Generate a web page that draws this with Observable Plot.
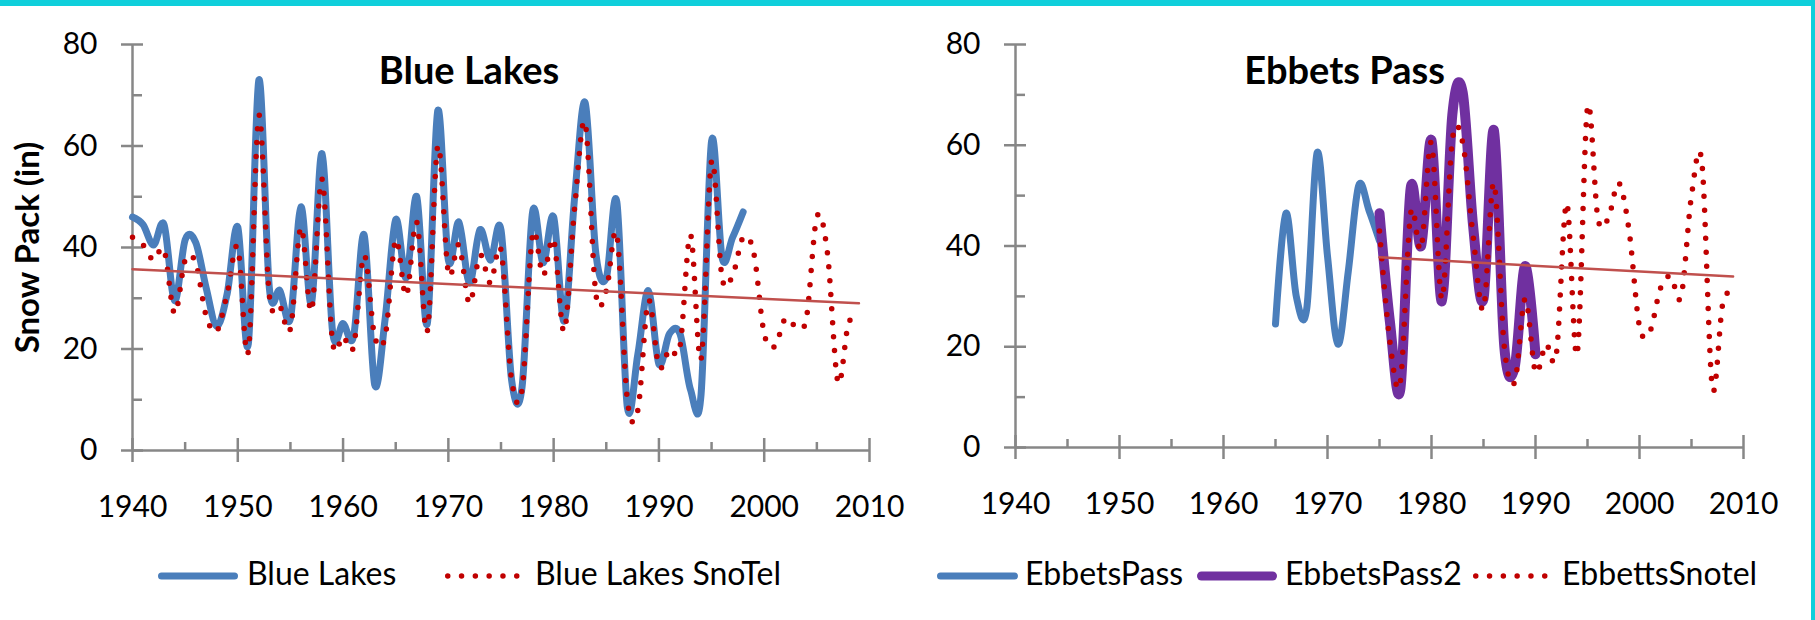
<!DOCTYPE html>
<html><head><meta charset="utf-8">
<script src="https://cdn.jsdelivr.net/npm/d3@7"></script>
<script src="https://cdn.jsdelivr.net/npm/@observablehq/plot@0.6"></script>
<style>
html,body{margin:0;padding:0;background:#fff;}
#page{position:relative;width:1815px;height:620px;overflow:hidden;font-family:Lato,sans-serif;background:#fff;}
.bar-top{position:absolute;left:0;top:0;width:1815px;height:6px;background:#0FCFDB;}
.bar-right{position:absolute;left:1811px;top:0;width:4px;height:620px;background:#0FCFDB;}
.chart{position:absolute;top:0;}
.leg{position:absolute;top:553px;font-size:32px;line-height:40px;color:#000;white-space:nowrap;font-family:Lato,sans-serif;}
.sw{position:absolute;top:566px;overflow:visible;}
</style></head><body>
<div id="page">
  <div class="chart" id="left" style="left:0px"></div>
  <div class="chart" id="right" style="left:905px"></div>
  <div id="legend"></div>
  <div class="bar-top"></div>
  <div class="bar-right"></div>
</div>
<script>
// ---------- data ----------
const blueLakesStart = 1940;
const blueLakes = [46, 44.5, 40.5, 44.5, 29.5, 41.5, 41, 32, 24.5, 31,
  44, 21, 73, 32, 31.5, 26, 48, 29, 58.5, 23.5,
  25, 22.5, 42.5, 13, 26, 45.5, 34, 50, 25, 67,
  37.5, 45, 33, 43.5, 37.5, 43.5, 14, 12.5, 47, 37,
  46, 25.5, 50, 68.5, 39, 34, 49, 8.5, 19, 31.5,
  17, 23, 23, 12, 11, 61, 38, 42, 47];

const blueLakesSnoTelStart = 1940;
const blueLakesSnoTel = [42, 40.5, 37.5, 39.5, 27, 37.5, 37, 26.5, 23.5, 31,
  40, 19.5, 66, 30.5, 28.5, 24, 44, 27.5, 53.5, 21.5,
  22.5, 20.5, 38.5, 22.5, 22.5, 41.5, 30.5, 45, 23.5, 60,
  35, 40.5, 29, 38.5, 33, 39.5, 14, 12, 42.5, 34.5,
  41.5, 23.5, 48, 64.5, 31, 31.5, 42.5, 10, 8, 29.5,
  16.5, 20, 20.5, 42.5, 18, 57, 34, 34.5, 42, 39,
  23, 20.5, 26, 24.5, 26, 46, 39, 13.5, 25, 26];

const ebbetsPassStart = 1965;
const ebbetsPass = [24.5, 46.5, 30, 27.5, 58.5, 38, 20.5, 35, 52, 47, 41];

const ebbetsPass2Start = 1975;
const ebbetsPass2 = [46.5, 25, 11.5, 51.5, 40, 61, 29, 66, 70.5, 44, 29.5, 63, 20, 16, 36, 18.5];

const ebbettsSnotelStart = 1975;
const ebbettsSnotel = [43, 21, 13, 46.5, 39.5, 60.5, 29.5, 61, 60.5, 42, 27.5, 52.5, 20, 13, 29.5,
  15, 20.5, 18.5, 48.5, 18.5, 67.5, 45.5, 45.5, 52.5, 43,
  24, 23, 31.5, 34, 30, 50, 56.5, 12, 28.5, 31];

const xMajor = [1940, 1950, 1960, 1970, 1980, 1990, 2000, 2010];
const xMinor = [1945, 1955, 1965, 1975, 1985, 1995, 2005];
const yMajor = [0, 20, 40, 60, 80];
const yMinor = [10, 30, 50, 70];

const titles = ["Blue Lakes", "Ebbets Pass"];
const yTitle = "Snow Pack (in)";
const legendLeft = ["Blue Lakes", "Blue Lakes SnoTel"];
const legendRight = ["EbbetsPass", "EbbetsPass2", "EbbettsSnotel"];

// ---------- styles ----------
const C = {blue: "#4A7EBB", purple: "#7030A0", red: "#C00000", trend: "#C0504D", axis: "#878787"};

const toRows = (start, vals) => vals.map((v, i) => ({year: start + i, value: v}));

function axes() {
  return [
    Plot.ruleY([0], {stroke: C.axis, strokeWidth: 2.5}),
    Plot.ruleX([1940], {stroke: C.axis, strokeWidth: 2.5}),
    Plot.axisX(xMajor, {anchor: "bottom", tickSize: 12, tickPadding: 33, stroke: C.axis, strokeWidth: 2.5, fill: "#000", fontSize: 30, tickFormat: d => String(d), label: null}),
    Plot.axisX(xMajor, {anchor: "bottom", tickSize: 12, dy: -12, stroke: C.axis, strokeWidth: 2.5, tickFormat: () => "", label: null}),
    Plot.axisX(xMinor, {anchor: "bottom", tickSize: 8, dy: -8, stroke: C.axis, strokeWidth: 2.5, tickFormat: () => "", label: null}),
    Plot.axisY(yMajor, {anchor: "left", tickSize: 11, tickPadding: 24, stroke: C.axis, strokeWidth: 2.5, fill: "#000", fontSize: 30, tickFormat: d => String(d), label: null}),
    Plot.axisY(yMajor, {anchor: "left", tickSize: 11, dx: 11, stroke: C.axis, strokeWidth: 2.5, tickFormat: () => "", label: null}),
    Plot.axisY(yMinor, {anchor: "left", tickSize: 10, dx: 10, stroke: C.axis, strokeWidth: 2.5, tickFormat: () => "", label: null})
  ];
}

function solid(rows, color, w) {
  return Plot.line(rows, {x: "year", y: "value", curve: "cardinal", stroke: color, strokeWidth: w, strokeLinecap: "round", strokeLinejoin: "round"});
}
function dotted(rows) {
  return Plot.line(rows, {x: "year", y: "value", curve: "cardinal", stroke: C.red, strokeWidth: 5.5, strokeDasharray: "0 14", strokeLinecap: "round"});
}
function trend(rows) {
  return Plot.linearRegressionY(rows, {x: "year", y: "value", stroke: C.trend, strokeWidth: 2.5, ci: 0});
}

function base(marginLeft, marginRight, marginBottom, marks) {
  return Plot.plot({
    width: 905, height: 530,
    marginTop: 44, marginBottom, marginLeft, marginRight,
    x: {domain: [1940, 2010], label: null},
    y: {domain: [0, 80], label: null},
    style: {fontFamily: "Lato, sans-serif", fontSize: "30px", background: "transparent", overflow: "visible", color: "#000"},
    marks
  });
}

// left chart
const blRows = toRows(blueLakesStart, blueLakes);
const bsRows = toRows(blueLakesSnoTelStart, blueLakesSnoTel);
document.getElementById("left").appendChild(base(132, 36, 80, [
  ...axes(),
  solid(blRows, C.blue, 7),
  dotted(bsRows),
  trend(bsRows),
  Plot.text([titles[0]], {text: d => d, frameAnchor: "top", dx: -32, dy: 13, fontSize: 38, fontWeight: "bold", fill: "#000"}),
  Plot.text([yTitle], {text: d => d, frameAnchor: "left", textAnchor: "middle", rotate: -90, dx: -104, fontSize: 33, fontWeight: "bold", fill: "#000"})
]));

// right chart
const epRows = toRows(ebbetsPassStart, ebbetsPass);
const ep2Rows = toRows(ebbetsPass2Start, ebbetsPass2);
const esRows = toRows(ebbettsSnotelStart, ebbettsSnotel);
document.getElementById("right").appendChild(base(110, 67, 83, [
  ...axes(),
  solid(epRows, C.blue, 7),
  solid(ep2Rows, C.purple, 10),
  dotted(esRows),
  trend(esRows),
  Plot.text([titles[1]], {text: d => d, frameAnchor: "top", dx: -35, dy: 13, fontSize: 38, fontWeight: "bold", fill: "#000"})
]));

// ---------- legend ----------
const legend = document.getElementById("legend");
function swatch(x1, x2, color, w, dash) {
  const ns = "http://www.w3.org/2000/svg";
  const svg = document.createElementNS(ns, "svg");
  svg.setAttribute("class", "sw");
  svg.setAttribute("width", x2 - x1 + 20);
  svg.setAttribute("height", 20);
  svg.style.left = (x1 - 10) + "px";
  const l = document.createElementNS(ns, "line");
  l.setAttribute("x1", 10 + w / 2); l.setAttribute("x2", x2 - x1 + 10 - w / 2);
  l.setAttribute("y1", 10); l.setAttribute("y2", 10);
  l.setAttribute("stroke", color); l.setAttribute("stroke-width", w);
  l.setAttribute("stroke-linecap", "round");
  if (dash) l.setAttribute("stroke-dasharray", dash);
  svg.appendChild(l);
  legend.appendChild(svg);
}
function label(x, t) {
  const d = document.createElement("div");
  d.className = "leg"; d.style.left = x + "px"; d.textContent = t;
  legend.appendChild(d);
}
swatch(158, 238, C.blue, 7); label(247, legendLeft[0]);
swatch(445, 521, C.red, 5.5, "0 13.8"); label(535, legendLeft[1]);
swatch(937, 1018, C.blue, 7); label(1025, legendRight[0]);
swatch(1197, 1277, C.purple, 9); label(1285, legendRight[1]);
swatch(1473, 1549, C.red, 5.5, "0 13.8"); label(1562, legendRight[2]);
</script>
</body></html>
